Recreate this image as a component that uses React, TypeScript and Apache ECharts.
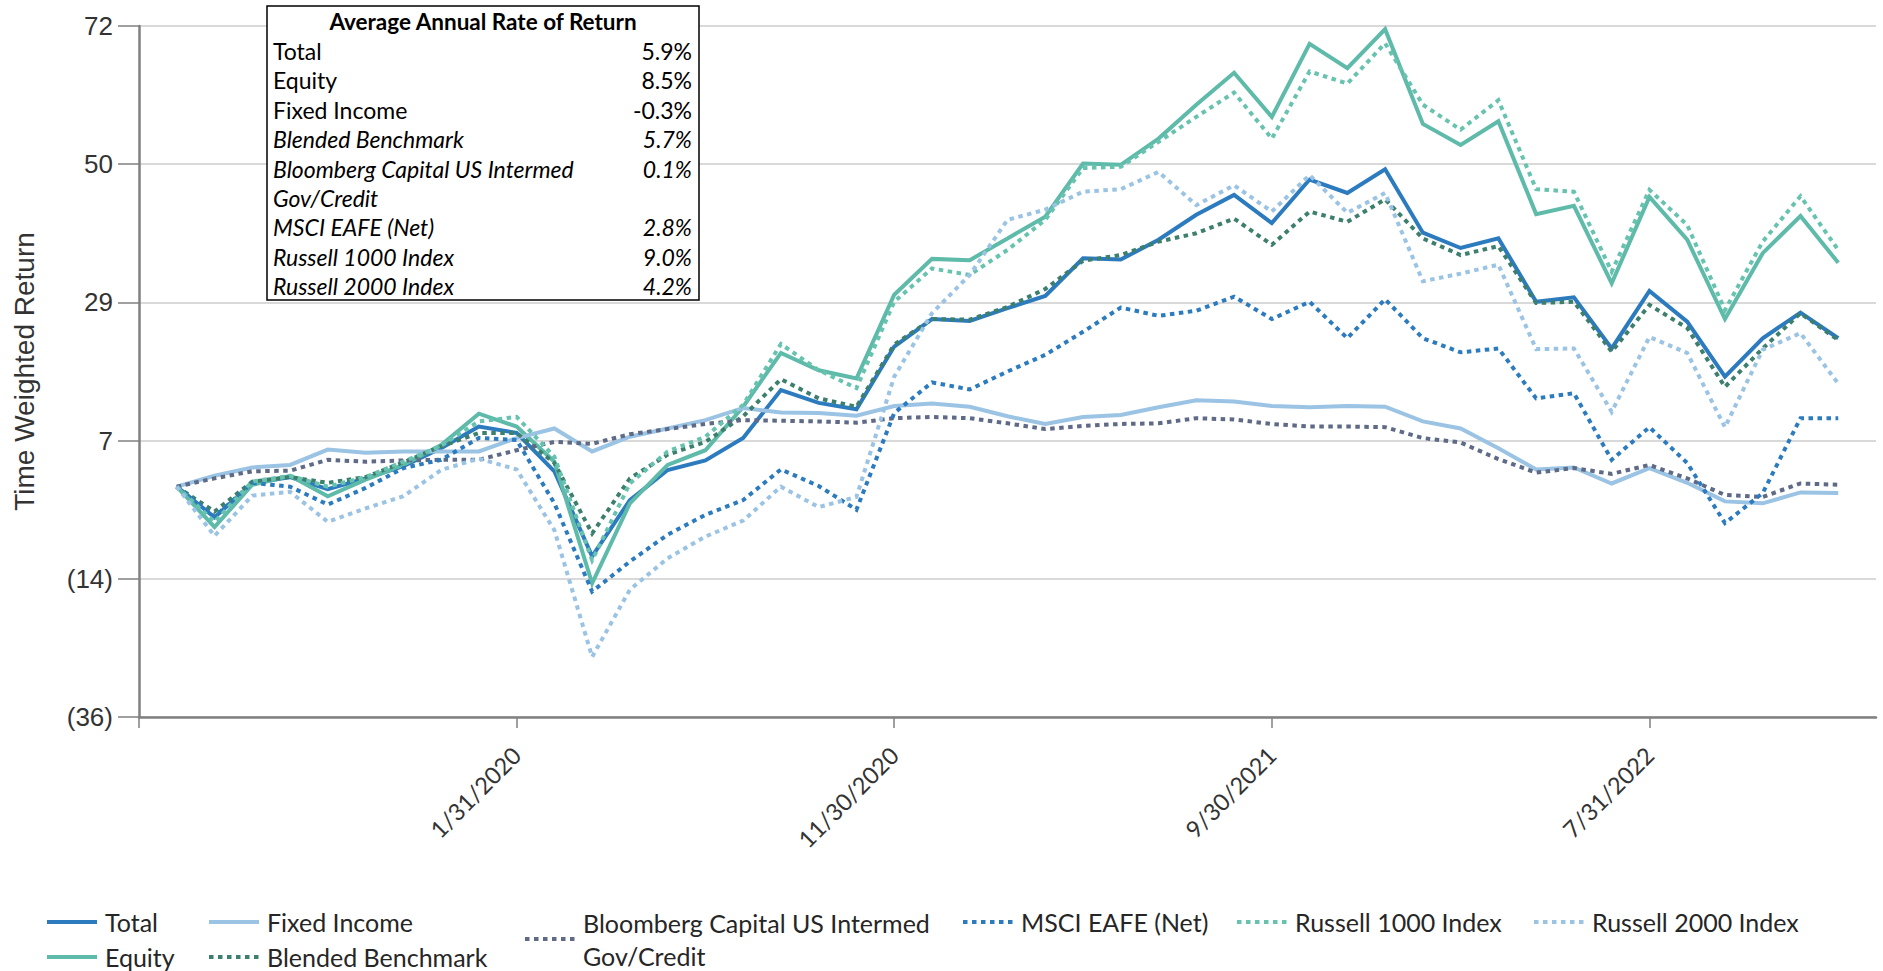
import React, { useEffect, useRef } from 'react';
import * as echarts from 'echarts';

const CATEGORIES = [
  '3/31/2019', '4/30/2019', '5/31/2019', '6/30/2019', '7/31/2019', '8/31/2019', '9/30/2019', '10/31/2019', '11/30/2019', '12/31/2019',
  '1/31/2020', '2/29/2020', '3/31/2020', '4/30/2020', '5/31/2020', '6/30/2020', '7/31/2020', '8/31/2020', '9/30/2020', '10/31/2020',
  '11/30/2020', '12/31/2020', '1/31/2021', '2/28/2021', '3/31/2021', '4/30/2021', '5/31/2021', '6/30/2021', '7/31/2021', '8/31/2021',
  '9/30/2021', '10/31/2021', '11/30/2021', '12/31/2021', '1/31/2022', '2/28/2022', '3/31/2022', '4/30/2022', '5/31/2022', '6/30/2022',
  '7/31/2022', '8/31/2022', '9/30/2022', '10/31/2022', '11/30/2022', '12/31/2022', '1/31/2023',
];

// values from 4/30/2019 to 12/31/2022
const TOTAL = [0, -4.8, 0.5, 1.5, -0.4, 1.3, 3.2, 6.0, 9.4, 8.4, 2.4, -10.9, -2.1, 2.6, 4.1, 7.6, 15.1, 13.1, 12.1, 21.9, 26.2, 25.9, 27.9, 29.8, 35.7, 35.5, 38.6, 42.5, 45.6, 41.2, 48.0, 45.9, 49.6, 39.7, 37.3, 38.8, 28.9, 29.6, 21.6, 30.6, 25.8, 17.2, 23.2, 27.2, 23.2];
const EQUITY = [0, -6.3, 0.3, 1.7, -1.5, 1.1, 3.4, 6.5, 11.4, 9.4, 3.9, -15.1, -2.6, 3.4, 5.7, 12.5, 20.9, 18.2, 16.9, 30.0, 35.6, 35.4, 38.8, 42.2, 50.5, 50.3, 54.4, 59.7, 64.7, 57.8, 69.2, 65.4, 71.5, 56.7, 53.4, 57.1, 42.6, 43.9, 31.8, 45.3, 38.6, 26.2, 36.5, 42.3, 35.0];
const FIXED_INCOME = [0, 1.7, 3.0, 3.4, 5.8, 5.3, 5.5, 5.5, 5.5, 7.6, 9.1, 5.5, 7.8, 9.1, 10.4, 12.3, 11.6, 11.5, 11.1, 12.6, 13.0, 12.5, 11.0, 9.8, 10.9, 11.2, 12.4, 13.5, 13.3, 12.6, 12.4, 12.6, 12.5, 10.2, 9.1, 6.0, 2.7, 3.0, 0.5, 2.9, 0.6, -2.3, -2.6, -0.9, -1.0];
const BLENDED = [0, -3.9, 0.8, 1.5, 0.6, 1.5, 3.8, 6.3, 8.4, 8.4, 3.7, -7.3, 1.3, 5.0, 7.0, 11.0, 16.8, 13.8, 12.5, 22.2, 26.2, 26.1, 28.1, 30.9, 35.3, 36.2, 38.3, 39.6, 41.9, 37.8, 43.0, 41.4, 44.9, 38.8, 36.2, 37.6, 28.7, 28.9, 21.1, 28.4, 24.8, 15.6, 21.6, 27.1, 22.9];
const BLOOMBERG = [0, 1.3, 2.4, 2.5, 4.2, 3.9, 4.1, 4.2, 4.2, 5.7, 7.0, 6.7, 8.2, 9.0, 9.8, 10.4, 10.3, 10.2, 10.0, 10.7, 10.9, 10.7, 9.9, 9.0, 9.5, 9.8, 9.9, 10.7, 10.5, 9.8, 9.4, 9.4, 9.3, 7.6, 6.9, 4.3, 2.2, 2.9, 2.0, 3.4, 1.3, -1.3, -1.6, 0.5, 0.3];
const MSCI = [0, -4.7, 0.6, 0.0, -2.8, -0.2, 2.9, 4.2, 7.6, 7.3, -2.6, -16.4, -11.7, -7.5, -4.4, -2.1, 2.7, 0.1, -3.6, 11.5, 16.3, 15.2, 18.0, 20.6, 24.2, 28.0, 26.7, 27.5, 29.7, 26.2, 28.9, 23.2, 29.3, 23.2, 21.0, 21.6, 13.8, 14.6, 4.2, 9.3, 3.7, -5.7, -1.0, 10.7, 10.7];
const RUSSELL_1000 = [0, -5.5, 0.8, 1.7, 0.0, 1.5, 3.9, 6.4, 10.2, 10.9, 4.7, -11.5, 0.5, 5.5, 7.8, 12.8, 22.3, 18.2, 15.4, 28.9, 34.1, 33.1, 37.0, 41.7, 49.8, 50.0, 53.9, 57.8, 61.6, 54.4, 64.9, 63.0, 69.3, 59.7, 55.8, 60.4, 46.5, 46.1, 33.6, 46.4, 40.9, 27.6, 38.3, 45.4, 37.0];
const RUSSELL_2000 = [0, -7.7, -1.4, -0.8, -5.5, -3.4, -1.5, 2.6, 4.4, 2.7, -6.8, -26.6, -16.1, -11.2, -7.8, -5.3, 0.0, -3.2, -1.6, 17.2, 27.1, 33.1, 41.7, 43.3, 46.1, 46.5, 49.2, 44.0, 47.1, 43.0, 48.7, 42.8, 45.9, 32.1, 33.3, 34.7, 21.5, 21.6, 11.7, 23.4, 20.9, 9.3, 21.4, 24.0, 16.1];

const SERIES_NAMES = [
  'Total', 'Equity', 'Fixed Income', 'Blended Benchmark',
  'Bloomberg Capital US Intermed Gov/Credit', 'MSCI EAFE (Net)', 'Russell 1000 Index', 'Russell 2000 Index',
];
const SERIES_VALUES = [TOTAL, EQUITY, FIXED_INCOME, BLENDED, BLOOMBERG, MSCI, RUSSELL_1000, RUSSELL_2000];
const SERIES_COLORS = ['#2C7BBF', '#5EBAA9', '#9BC3E4', '#3D7F6D', '#5E6A86', '#2C7BBF', '#67C3AF', '#9BC3E4'];
const SERIES_DOTTED = [false, false, false, true, true, true, true, true];

const Y_TICKS = [-36, -14.4, 7.2, 28.8, 50.4, 72];

const TABLE_TITLE = 'Average Annual Rate of Return';
const TABLE_LABELS = ['Total', 'Equity', 'Fixed Income', 'Blended Benchmark', 'Bloomberg Capital US Intermed', 'Gov/Credit', 'MSCI EAFE (Net)', 'Russell 1000 Index', 'Russell 2000 Index'];
const TABLE_VALUES = ['5.9%', '8.5%', '-0.3%', '5.7%', '0.1%', '', '2.8%', '9.0%', '4.2%'];
const TABLE_ITALIC = [false, false, false, true, true, true, true, true, true];

const LEGEND_COLUMNS = [
  { left: 45, top: 908, names: ['Total', 'Equity'] },
  { left: 207, top: 908, names: ['Fixed Income', 'Blended Benchmark'] },
  { left: 523, top: 906, names: ['Bloomberg Capital US Intermed Gov/Credit'] },
  { left: 961, top: 908, names: ['MSCI EAFE (Net)'] },
  { left: 1235, top: 908, names: ['Russell 1000 Index'] },
  { left: 1532, top: 908, names: ['Russell 2000 Index'] },
];

const LEGEND_FONT = 'Lato';

function buildOption() {
  const series = SERIES_NAMES.map((name, k) => ({
    name,
    type: 'line',
    data: [null, ...SERIES_VALUES[k]],
    symbol: 'none',
    showSymbol: false,
    lineStyle: {
      color: SERIES_COLORS[k],
      width: 4,
      type: SERIES_DOTTED[k] ? [4.5, 4.5] : 'solid',
      cap: 'butt',
      join: 'miter',
    },
    itemStyle: { color: SERIES_COLORS[k] },
    emphasis: { disabled: true },
  }));

  const legends = LEGEND_COLUMNS.map((col) => ({
    orient: 'vertical',
    left: col.left,
    top: col.top,
    padding: 0,
    itemWidth: 50,
    itemHeight: 14,
    itemGap: 7,
    selectedMode: false,
    data: col.names,
    itemStyle: { opacity: 0 },
    lineStyle: { width: 4 },
    formatter: (n: string) => (n === 'Bloomberg Capital US Intermed Gov/Credit' ? 'Bloomberg Capital US Intermed\nGov/Credit' : n),
    textStyle: {
      fontFamily: LEGEND_FONT,
      fontSize: 25,
      color: '#262626',
      lineHeight: col.names[0].startsWith('Bloomberg') ? 33 : 28,
      padding: [0, 0, 0, 3],
    },
  }));

  const tableChildren: any[] = [
    {
      type: 'rect',
      shape: { x: 267, y: 6, width: 432, height: 294 },
      style: { fill: '#ffffff', stroke: '#000000', lineWidth: 1.5 },
      z: 10,
    },
    {
      type: 'text',
      x: 483,
      y: 21,
      style: { text: TABLE_TITLE, fontFamily: 'Lato', fontSize: 22.5, fontWeight: 'bold', fill: '#000', textAlign: 'center', textVerticalAlign: 'middle' },
      z: 11,
    },
  ];
  TABLE_LABELS.forEach((label, k) => {
    const y = 51 + k * 29.4;
    const fontStyle = TABLE_ITALIC[k] ? 'italic' : 'normal';
    tableChildren.push({
      type: 'text', x: 273, y, z: 11,
      style: { text: label, fontFamily: 'Lato', fontSize: 23, fontStyle, fill: '#000', textAlign: 'left', textVerticalAlign: 'middle' },
    });
    if (TABLE_VALUES[k]) {
      tableChildren.push({
        type: 'text', x: 692, y, z: 11,
        style: { text: TABLE_VALUES[k], fontFamily: 'Lato', fontSize: 23, fontStyle, fill: '#000', textAlign: 'right', textVerticalAlign: 'middle' },
      });
    }
  });

  return {
    animation: false,
    backgroundColor: '#ffffff',
    grid: { left: 139, right: 7, top: 26, bottom: 254, containLabel: false },
    xAxis: {
      type: 'category',
      data: CATEGORIES,
      boundaryGap: false,
      axisLine: { onZero: false, lineStyle: { color: '#808080', width: 2.5 } },
      axisTick: {
        show: true,
        length: 11,
        interval: (i: number) => i % 10 === 0,
        lineStyle: { color: '#808080', width: 1.5 },
      },
      axisLabel: {
        interval: (i: number) => i % 10 === 0 && i > 0,
        rotate: 45,
        margin: 34,
        fontFamily: 'Lato',
        fontSize: 23.5,
        color: '#333333',
      },
      splitLine: { show: false },
    },
    yAxis: {
      type: 'value',
      min: -36,
      max: 72,
      name: 'Time Weighted Return',
      nameLocation: 'middle',
      nameGap: 101,
      nameTextStyle: { fontFamily: 'Liberation Sans', fontSize: 28, color: '#333333' },
      axisLine: { show: true, lineStyle: { color: '#808080', width: 2.5 } },
      axisTick: { show: true, length: 21, customValues: Y_TICKS, lineStyle: { color: '#808080', width: 1.5 } },
      axisLabel: {
        customValues: Y_TICKS,
        margin: 26,
        fontFamily: 'Liberation Sans',
        fontSize: 26,
        color: '#333333',
        formatter: (v: number) => (v < 0 ? `(${Math.round(-v)})` : `${Math.round(v)}`),
      },
      splitLine: { show: true, lineStyle: { color: '#D9D9D9', width: 2 } },
    },
    legend: legends,
    graphic: [{ type: 'group', children: tableChildren }],
    series,
  };
}

export default function App() {
  const ref = useRef<HTMLDivElement>(null);
  useEffect(() => {
    if (!ref.current) return;
    const chart = echarts.init(ref.current, null, { renderer: 'svg' });
    chart.setOption(buildOption() as any);
    return () => chart.dispose();
  }, []);
  return (
    <div
      ref={ref}
      style={{ position: 'fixed', left: 0, top: 0, width: 1883, height: 971, background: '#ffffff' }}
    />
  );
}
